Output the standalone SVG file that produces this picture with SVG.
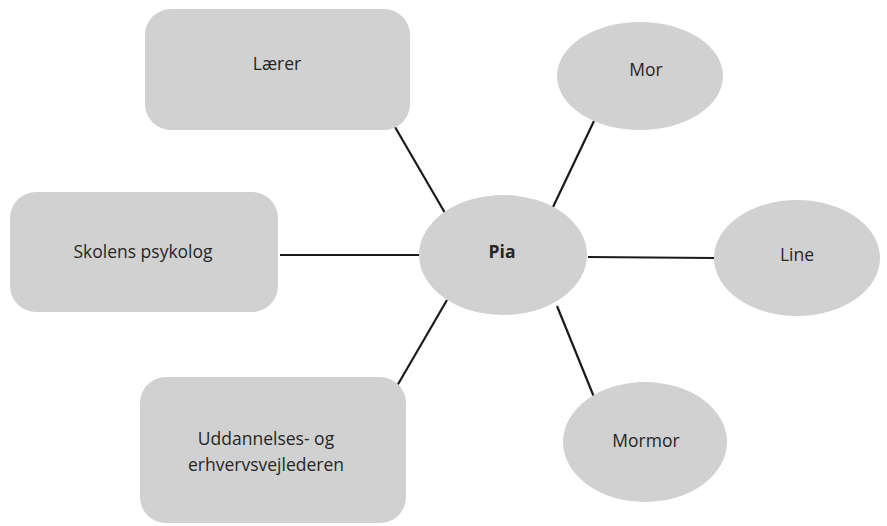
<svg xmlns="http://www.w3.org/2000/svg" width="887" height="526" viewBox="0 0 887 526">
  <style>
    .node { fill: #d1d1d1; }
    .label { font-family: "Open Sans", "Liberation Sans", sans-serif; font-size: 17.5px; fill: #262626; text-anchor: middle; dominant-baseline: central; }
    .bold { font-weight: bold; }
    .edge { stroke: #1a1a1a; stroke-width: 2.2; fill: none; }
  </style>
  <rect width="887" height="526" fill="#ffffff"/>

  <!-- connectors from the centre to each person -->
  <g id="connectors">
    <line class="edge" x1="395" y1="127" x2="445" y2="213"/>
    <line class="edge" x1="594" y1="121" x2="553" y2="207"/>
    <line class="edge" x1="280" y1="255" x2="420" y2="255"/>
    <line class="edge" x1="588" y1="257" x2="714" y2="258"/>
    <line class="edge" x1="397" y1="386" x2="447" y2="300"/>
    <line class="edge" x1="557" y1="306" x2="594" y2="397"/>
  </g>

  <g id="laerer">
    <rect class="node" x="145" y="9" width="265" height="121" rx="26"/>
    <text class="label" x="277" y="63">Lærer</text>
  </g>

  <g id="mor">
    <ellipse class="node" cx="640" cy="76" rx="83" ry="54"/>
    <text class="label" x="646" y="69">Mor</text>
  </g>

  <g id="skolens-psykolog">
    <rect class="node" x="10" y="192" width="268" height="120" rx="26"/>
    <text class="label" x="143" y="251">Skolens psykolog</text>
  </g>

  <g id="pia">
    <ellipse class="node" cx="503" cy="255" rx="84" ry="60"/>
    <text class="label bold" x="502" y="251">Pia</text>
  </g>

  <g id="line">
    <ellipse class="node" cx="797" cy="258" rx="83" ry="58"/>
    <text class="label" x="797" y="254">Line</text>
  </g>

  <g id="uddannelses">
    <rect class="node" x="140" y="377" width="266" height="146" rx="26"/>
    <text class="label" x="266" y="438">Uddannelses- og</text>
    <text class="label" x="266" y="464">erhvervsvejlederen</text>
  </g>

  <g id="mormor">
    <ellipse class="node" cx="645" cy="442" rx="82" ry="60"/>
    <text class="label" x="646" y="440">Mormor</text>
  </g>
</svg>
